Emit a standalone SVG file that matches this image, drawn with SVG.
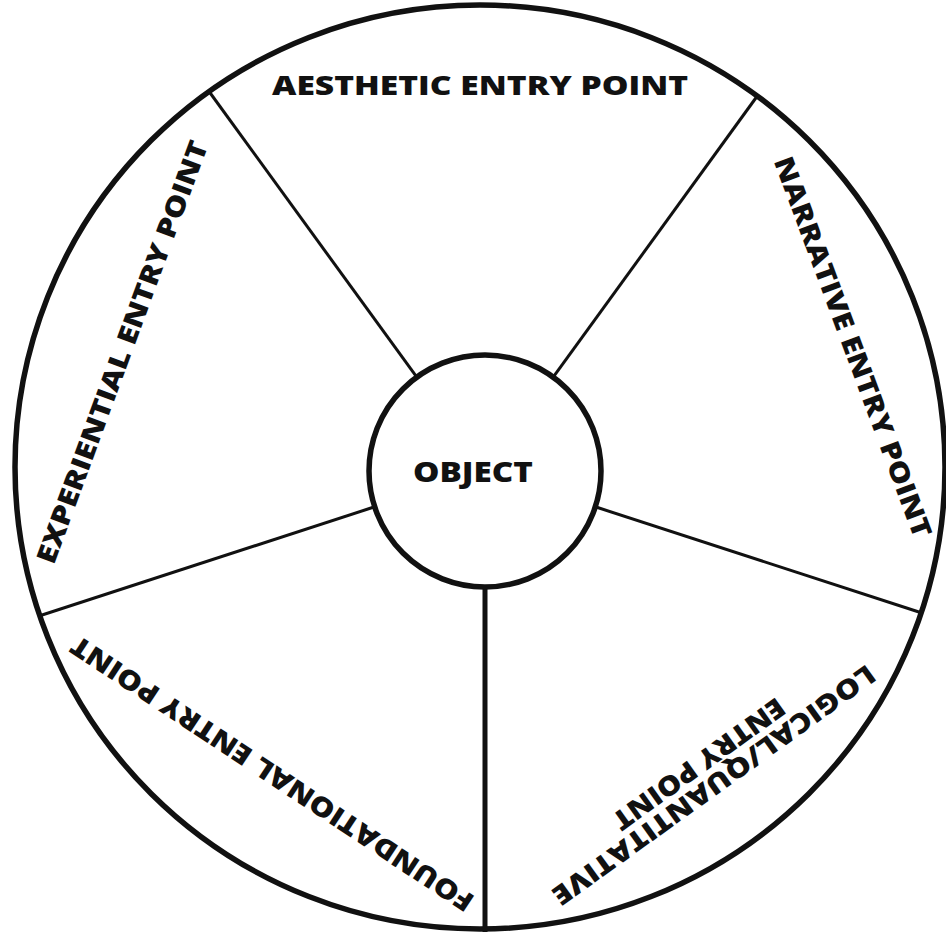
<svg xmlns="http://www.w3.org/2000/svg" width="946" height="934" viewBox="0 0 946 934">
<style>
.lbl{font-family:"Open Sans","Liberation Sans",sans-serif;font-weight:800;font-size:27px;fill:#111;text-anchor:middle}
.spoke{stroke:#111;stroke-width:3;fill:none}
.ring{stroke:#111;stroke-width:5.5;fill:none}
</style>
<rect width="946" height="934" fill="#fff"/>
<g id="connectors">
<line class="spoke" x1="595.3" y1="506.8" x2="922" y2="613"/>
<line class="spoke" style="stroke-width:5" x1="485" y1="587" x2="485" y2="932"/>
<line class="spoke" x1="374.7" y1="506.8" x2="39" y2="616"/>
<line class="spoke" x1="416.8" y1="377.2" x2="208" y2="90"/>
<line class="spoke" x1="553.2" y1="377.2" x2="758" y2="95"/>
</g>
<g id="wheel">
<ellipse class="ring" cx="480" cy="467" rx="465" ry="462"/>
</g>
<g id="object">
<circle class="ring" cx="485" cy="471" r="116" fill="#fff"/>
<text class="lbl" x="473" y="482" style="font-size:29px" textLength="120" lengthAdjust="spacingAndGlyphs">OBJECT</text>
</g>
<g id="aesthetic">
<text class="lbl" x="480" y="95" textLength="416" lengthAdjust="spacingAndGlyphs">AESTHETIC ENTRY POINT</text>
</g>
<g id="experiential">
<text class="lbl" transform="translate(122,352) rotate(-69.8)" x="0" y="9.6" textLength="448" lengthAdjust="spacingAndGlyphs">EXPERIENTIAL ENTRY POINT</text>
</g>
<g id="narrative">
<text class="lbl" transform="translate(853,347) rotate(69.6)" x="0" y="9.6" textLength="404" lengthAdjust="spacingAndGlyphs">NARRATIVE ENTRY POINT</text>
</g>
<g id="foundational">
<text class="lbl" transform="translate(272,774) rotate(213.4)" x="0" y="9.6" textLength="476" lengthAdjust="spacingAndGlyphs">FOUNDATIONAL ENTRY POINT</text>
</g>
<g id="logical">
<text class="lbl" transform="translate(714,785) rotate(144.3)" x="0" y="9.6" textLength="390" lengthAdjust="spacingAndGlyphs">LOGICAL/QUANTITATIVE</text>
<text class="lbl" transform="translate(714,785) rotate(144.3)" x="0" y="35.4" textLength="205" lengthAdjust="spacingAndGlyphs">ENTRY POINT</text>
</g>
</svg>
